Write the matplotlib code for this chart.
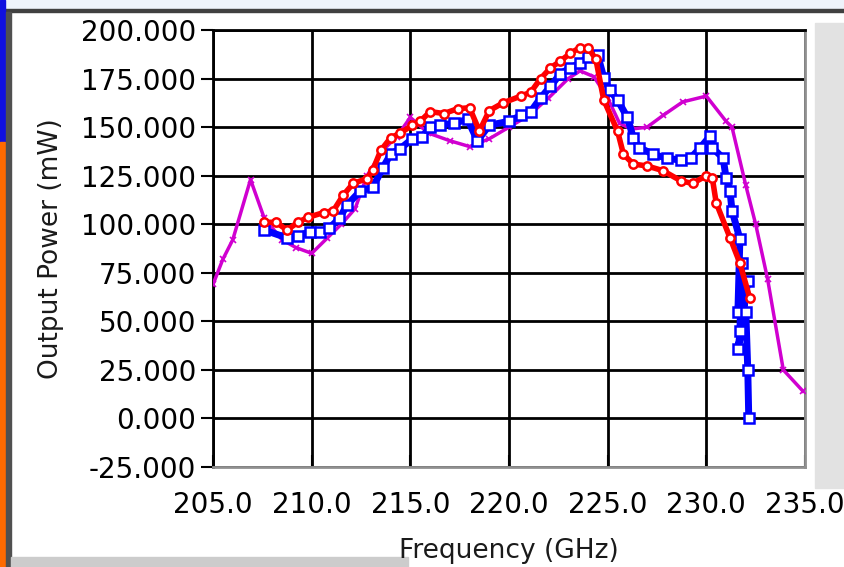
import numpy as np
import matplotlib.pyplot as plt
from matplotlib.patches import Rectangle

# Magenta trace (x markers)
mag_f = [205.0, 205.5, 206.0, 206.9, 207.6, 208.5, 209.2, 210.0, 210.8, 211.5,
         212.2, 212.8, 213.6, 214.3, 215.0, 215.9, 217.0, 218.0, 219.0, 220.0,
         221.0, 222.0, 223.0, 223.6, 224.3, 225.0, 225.6, 226.2, 227.0, 227.8,
         228.8, 230.0, 231.0, 231.3, 232.0, 232.5, 233.1, 233.9, 234.9]
mag_p = [69, 82, 92, 123, 103, 92, 88, 85, 93, 100,
         108, 125, 138, 145, 155, 147, 143, 140, 144, 150,
         156, 165, 175, 179, 176, 165, 152, 149, 150, 156,
         163, 166, 153, 150, 120, 100, 72, 25, 14]

# Red trace (circles)
red_f = [207.6, 208.2, 208.75, 209.3, 209.8, 210.6, 211.1, 211.6, 212.1, 212.8,
         213.1, 213.5, 214.0, 214.5, 215.1, 215.5, 216.0, 216.7, 217.4, 218.0,
         218.5, 219.0, 219.7, 220.6, 221.1, 221.6, 222.1, 222.6, 223.1, 223.6,
         224.0, 224.4, 224.8, 225.5, 225.8, 226.3, 227.0, 227.8, 228.7, 229.3,
         230.0, 230.3, 230.5, 231.2, 231.7, 232.2]
red_p = [101, 101, 97, 101, 103.5, 106, 107, 115, 121, 123.5,
         128, 138, 144.5, 147, 151, 153, 158, 157, 159.5, 160,
         148, 158.5, 162.5, 166, 168, 175, 180.5, 184, 188, 191,
         191, 185, 164, 148, 136, 131, 130, 127.6, 122.4, 121,
         125, 124, 111, 93, 80, 62]

# Blue trace (squares)
blue_f = [207.6, 208.75, 209.3, 209.9, 210.4, 210.9, 211.4, 211.8, 212.45, 213.1,
          213.6, 214.0, 214.5, 215.1, 215.6, 216.0, 216.5, 217.2, 217.9, 218.4,
          219.0, 220.0, 220.6, 221.1, 221.6, 222.1, 222.6, 223.1, 223.6, 224.0,
          224.5, 224.8, 225.1, 225.5, 226.0, 226.3, 226.6, 227.3, 228.0, 228.7,
          229.2, 229.7, 230.2, 230.3, 230.85, 231.0, 231.2, 231.3, 231.7, 231.6,
          231.8, 231.7, 232.1, 231.6, 232.0, 232.1, 232.15]
blue_p = [97, 93, 94, 96, 96, 98, 103, 110, 117, 119,
          129, 136, 139, 144, 145, 150, 151, 152, 154, 143,
          151, 153, 156, 158, 165, 171, 177.5, 180.5, 183, 186,
          187, 175.5, 169, 164, 155, 144.5, 139.5, 136, 134, 133,
          134, 139.5, 145.5, 139.5, 134, 124, 117, 107, 92.5, 55,
          80, 45, 71, 36, 55, 25, 0]

fig = plt.figure(figsize=(8.44, 5.67), dpi=100)
ax = fig.add_axes([0.2524, 0.1764, 0.7014, 0.7706])

ax.plot(mag_f, mag_p, color='#d000d0', lw=2.5, marker='x', ms=4, mew=1.2, zorder=3)
ax.plot(blue_f, blue_p, color='#0000ff', lw=5, marker='s', ms=6.5, mew=1.8,
        mfc='white', mec='#0000ff', zorder=4)
ax.plot(red_f, red_p, color='#ff0000', lw=4, marker='o', ms=6, mew=1.8,
        mfc='white', mec='#ff0000', zorder=5)

ax.set_xlim(205, 235)
ax.set_ylim(-25, 200)
ax.set_xticks(np.arange(205, 236, 5))
ax.set_yticks(np.arange(-25, 201, 25))
ax.set_xticklabels([f'{v:.1f}' for v in np.arange(205, 236, 5)])
ax.set_yticklabels([f'{v:.3f}' for v in np.arange(-25, 201, 25)])
ax.grid(True, color='black', lw=2)
ax.set_axisbelow(True)
for s in ['top', 'left']:
    ax.spines[s].set_color('black')
    ax.spines[s].set_linewidth(2)
for s in ['bottom', 'right']:
    ax.spines[s].set_color('#909090')
    ax.spines[s].set_linewidth(2)

ax.tick_params(axis='y', length=9, width=1.5, pad=3, labelsize=20, color='black')
ax.tick_params(axis='x', length=9, width=1.5, pad=8, labelsize=20, color='black')
for t in ax.get_xticklines():
    t.set_marker(2)

ax.set_ylabel('Output Power (mW)', fontsize=19, color='#1a1a1a', labelpad=12)
ax.set_xlabel('Frequency (GHz)', fontsize=19, color='#1a1a1a', labelpad=14)

# window decorations
deco = [
    ((0, 0.985), 1, 0.015, '#eef3fa'),
    ((0, 0.978), 1, 0.006, '#404040'),
    ((0, 0.75), 0.006, 0.25, '#1010e0'),
    ((0, 0), 0.006, 0.75, '#ff6a00'),
    ((0.007, 0), 0.006, 0.978, '#505050'),
    ((0.013, 0), 0.47, 0.018, '#cccccc'),
    ((0.966, 0.14), 0.034, 0.82, '#e2e2e2'),
]
for xy, w, h, c in deco:
    fig.patches.append(Rectangle(xy, w, h, transform=fig.transFigure,
                                 color=c, zorder=-1))

fig.savefig('out.png', dpi=100)
